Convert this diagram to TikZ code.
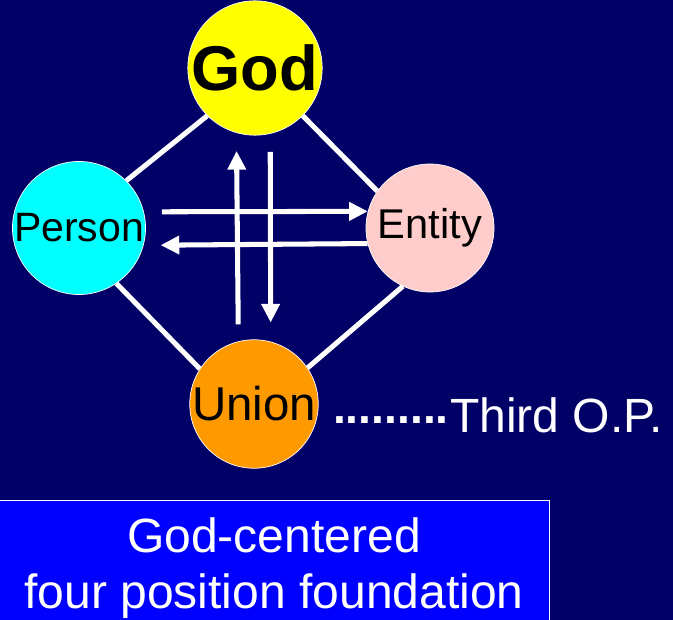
\documentclass[tikz,border=0pt]{standalone}
\usepackage{fontspec}
\setmainfont{Liberation Sans}
\usetikzlibrary{arrows.meta}
\definecolor{navy}{RGB}{0,0,102}
\definecolor{godyellow}{RGB}{255,255,0}
\definecolor{personcyan}{RGB}{0,255,255}
\definecolor{entitypink}{RGB}{255,204,204}
\definecolor{unionorange}{RGB}{255,153,0}
\definecolor{capblue}{RGB}{0,0,255}
\begin{document}
\begin{tikzpicture}[
  x=0.03cm, y=-0.03cm,
  posnode/.style={circle, draw=white, line width=0.6pt, inner sep=0pt,
    minimum size=3.84cm, text=black, align=center},
  link/.style={line width=4.3pt, white},
  flow/.style={line width=4.3pt, white, -{Triangle[length=0.56cm,width=0.53cm]}},
]
\useasboundingbox (0,0) rectangle (673,620);
\fill[navy] (0,0) rectangle (673,620);

% Four positions in a diamond
\node[posnode, fill=godyellow, font=\fontsize{54}{60}\selectfont\bfseries] (god) at (255,68) {God};
\node[posnode, fill=personcyan, font=\fontsize{35}{42}\selectfont] (person) at (79,228) {Person};
\node[posnode, fill=entitypink, font=\fontsize{35.5}{42}\selectfont] (entity) at (430,228) {Entity};
\node[posnode, fill=unionorange, font=\fontsize{40.5}{48}\selectfont] (union) at (254,404) {Union};

% Sides of the diamond
\draw[link] (person.45) -- (god.225);
\draw[link] (entity.145) -- (god.315);
\draw[link] (entity.245) -- (union.34);
\draw[link] (person.304) -- (union.147);

% Give and take between the positions
\draw[flow, shorten <=0.54cm] (person.14.5) -- (entity.165.5);
\draw[flow, shorten >=0.51cm] (entity.194.5) -- (person.345.5);
\draw[flow, shorten <=0.51cm, shorten >=0.54cm] (union.104.5) -- (god.254.6);
\draw[flow, shorten <=0.54cm, shorten >=0.57cm] (god.283.6) -- (union.75.5);

% Note on the union
\node[anchor=base east, inner sep=0pt, white, font=\fontsize{39.5}{44}\selectfont\bfseries] (dots) at (449,423) {.........};
\node[anchor=base west, inner sep=0pt, white, font=\fontsize{41}{48}\selectfont] (third) at (450,432) {Third O.P.};

% Caption box
\node[draw=white, line width=0.8pt, fill=capblue, text=white, align=center,
  minimum width=16.5cm, minimum height=4.08cm, inner sep=0pt,
  font=\fontsize{41}{47.8}\selectfont] (found) at (274,568)
  {God-centered\\four position foundation};
\end{tikzpicture}
\end{document}
